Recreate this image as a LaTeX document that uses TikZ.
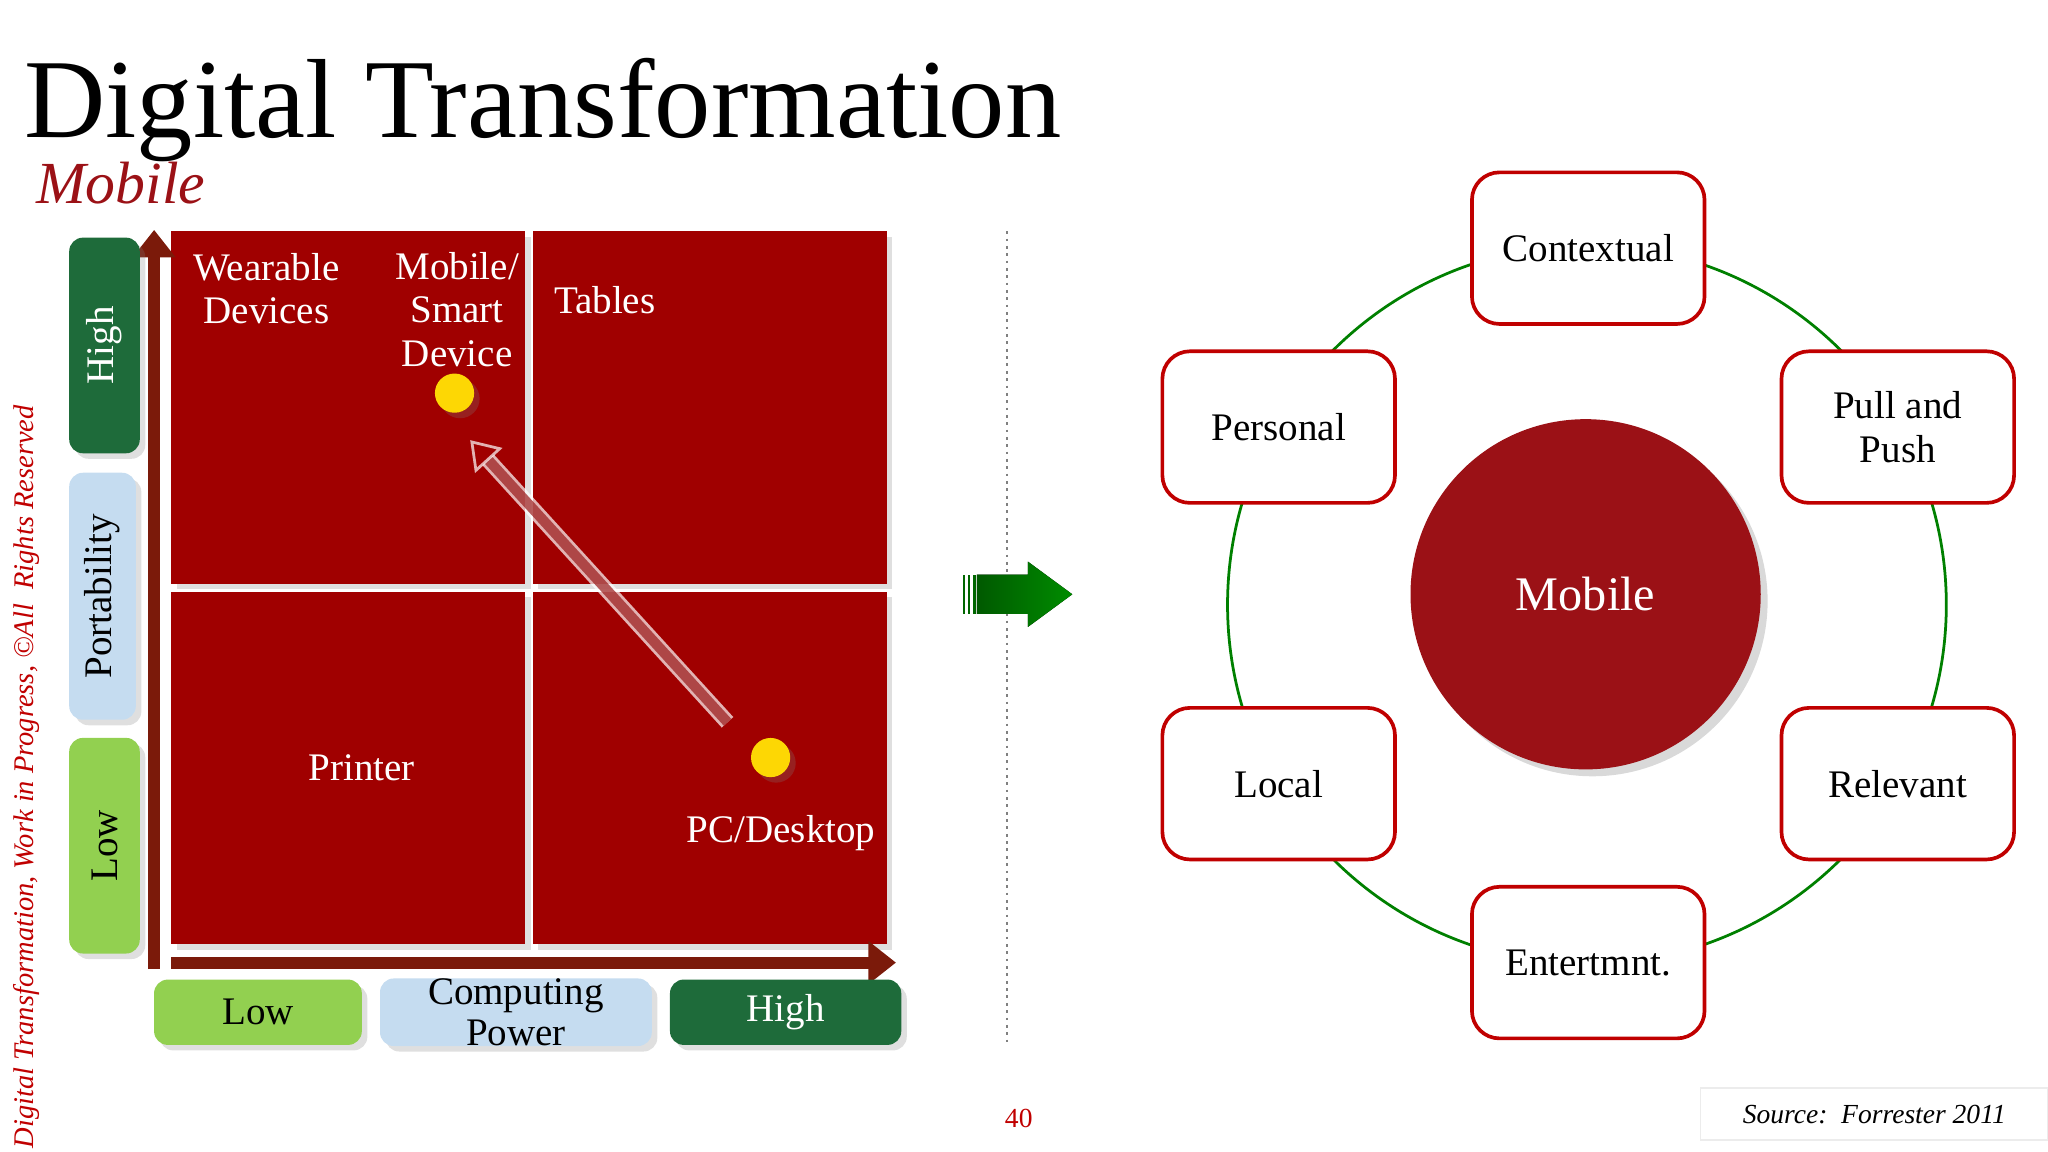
\documentclass[tikz,border=0pt]{standalone}
\usepackage{fontspec}
\setmainfont{Liberation Serif}
\usetikzlibrary{arrows.meta,shadows}
\definecolor{qred}{HTML}{A00000}
\definecolor{brn}{HTML}{7B1A0A}
\definecolor{dgreen}{HTML}{1E6B3A}
\definecolor{lgreen}{HTML}{92D050}
\definecolor{lblue}{HTML}{C5DCF0}
\definecolor{bred}{HTML}{C00000}
\definecolor{mred}{HTML}{9B1116}
\definecolor{ttl}{HTML}{9B1116}
\tikzset{
 sh/.style={drop shadow={opacity=0.25,shadow xshift=1.2pt,shadow yshift=-1.2pt}},
 quad/.style={fill=qred,draw=none,sh},
 qtext/.style={text=white,font=\fontsize{8.5}{9.5}\selectfont,align=center},
 lab/.style={rounded corners=3pt,sh,font=\fontsize{8.5}{9}\selectfont,align=center,inner sep=0pt},
 cbox/.style={draw=bred,line width=0.8pt,fill=white,rounded corners=6pt,minimum width=1.78cm,minimum height=1.16cm,font=\fontsize{8.5}{9.5}\selectfont,align=center},
 dot/.style={circle,fill=yellow!75!orange,minimum size=0.3cm,inner sep=0pt,sh}
}
\begin{document}
\begin{tikzpicture}[x=0.01cm,y=-0.01cm]
\useasboundingbox (0,0) rectangle (1568,882);
\node[anchor=base west,inner sep=0pt,font=\fontsize{24.5}{24}\selectfont] (title) at (18,105) {Digital Transformation};
\node[anchor=base west,inner sep=0pt,text=ttl,font=\fontsize{13}{13}\selectfont\itshape] (sub) at (27,156) {Mobile};
% quadrants
\node[quad,minimum width=2.71cm,minimum height=2.70cm,inner sep=0pt] (tl) at (266.5,312) {};
\node[quad,minimum width=2.71cm,minimum height=2.70cm,inner sep=0pt] (tr) at (543.5,312) {};
\node[quad,minimum width=2.71cm,minimum height=2.70cm,inner sep=0pt] (bl) at (266.5,588) {};
\node[quad,minimum width=2.71cm,minimum height=2.70cm,inner sep=0pt] (br) at (543.5,588) {};
% axes
\coordinate (o) at (118,742);
\coordinate (ytop) at (118,176);
\coordinate (xo) at (131,737);
\coordinate (xend) at (686,737);
\draw[brn,line width=2.6pt,-{Triangle[length=6pt,width=9pt]}] (o) -- (ytop);
\draw[brn,line width=2.6pt,-{Triangle[length=6pt,width=9pt]}] (xo) -- (xend);
% left labels
\node[lab,fill=dgreen,minimum width=0.54cm,minimum height=1.65cm] (yh) at (80,264.5) {};
\node[rotate=90,text=white,font=\fontsize{8.5}{9}\selectfont] at (yh) {High};
\node[lab,fill=lblue,minimum width=0.51cm,minimum height=1.89cm] (yp) at (78.5,456.5) {};
\node[rotate=90,font=\fontsize{8.5}{9}\selectfont] at (yp) {Portability};
\node[lab,fill=lgreen,minimum width=0.54cm,minimum height=1.65cm] (yl) at (80,647.5) {};
\node[rotate=90,font=\fontsize{8.5}{9}\selectfont] at (yl) {Low};
% bottom labels
\node[lab,fill=lgreen,minimum width=1.59cm,minimum height=0.50cm] (xl) at (197.5,775) {Low};
\node[lab,fill=lblue,minimum width=2.08cm,minimum height=0.50cm] (xc) at (395,775) {Computing\\Power};
\node[lab,fill=dgreen,text=white,minimum width=1.77cm,minimum height=0.50cm] (xh) at (601.5,775) {High};
% quadrant texts
\node[qtext] (wd) at (204,221) {Wearable\\Devices};
\node[qtext] (ms) at (350,237) {Mobile/\\Smart\\Device};
\node[qtext] (tab) at (463,230) {Tables};
\node[qtext] (pr) at (277,588) {Printer};
\node[qtext] (pc) at (598,638) {PC/Desktop};
\node[dot] (d1) at (348,301) {};
\node[dot] (d2) at (590,580) {};
\coordinate (as) at (557,553);
\coordinate (ae) at (360,337);
\draw[white,opacity=0.7,double=qred!80!gray,double distance=2.2pt,line width=0.6pt,-{Triangle[open,length=6pt,width=8pt]}] (as) -- (ae);
% separator
\coordinate (s1) at (771,177);
\coordinate (s2) at (771,800);
\draw[gray,densely dotted,line width=0.6pt] (s1) -- (s2);
% green block arrow
\fill[left color=green!35!black,right color=green!55!black] (748,440) -- (787,440) -- (787,430) -- (821,455) -- (787,480) -- (787,470) -- (748,470) -- cycle;
\foreach \x in {737,741,745}{\fill[green!40!black] (\x,440) rectangle +(2,30);}
% right diagram
\node[circle,draw=green!50!black,line width=0.6pt,minimum size=5.5cm,inner sep=0pt] (ring) at (1215,463) {};
\node[circle,fill=mred,minimum size=2.68cm,inner sep=0pt,text=white,font=\fontsize{10.5}{12}\selectfont,drop shadow={opacity=0.3,shadow xshift=1.5pt,shadow yshift=-1.5pt}] (mob) at (1214,455) {Mobile};
\node[cbox] (c1) at (1216,190) {Contextual};
\node[cbox] (c2) at (979,327) {Personal};
\node[cbox] (c3) at (1453,327) {Pull and\\Push};
\node[cbox] (c4) at (979,600) {Local};
\node[cbox] (c5) at (1453,600) {Relevant};
\node[cbox] (c6) at (1216,737) {Entertmnt.};
% footer
\node[text=bred,font=\fontsize{6}{7}\selectfont] (pg) at (780,856) {40};
\node[draw=gray!15,minimum width=2.66cm,minimum height=0.40cm,font=\fontsize{6}{7}\selectfont\itshape,inner sep=0pt] (src) at (1435,853) {Source:\ \ Forrester 2011};
\node[rotate=90,anchor=west,text=bred,font=\fontsize{6.2}{7}\selectfont\itshape,inner sep=0pt] (cr) at (20,880) {Digital Transformation, Work in Progress, ©All\ \ Rights Reserved};
\end{tikzpicture}
\end{document}
